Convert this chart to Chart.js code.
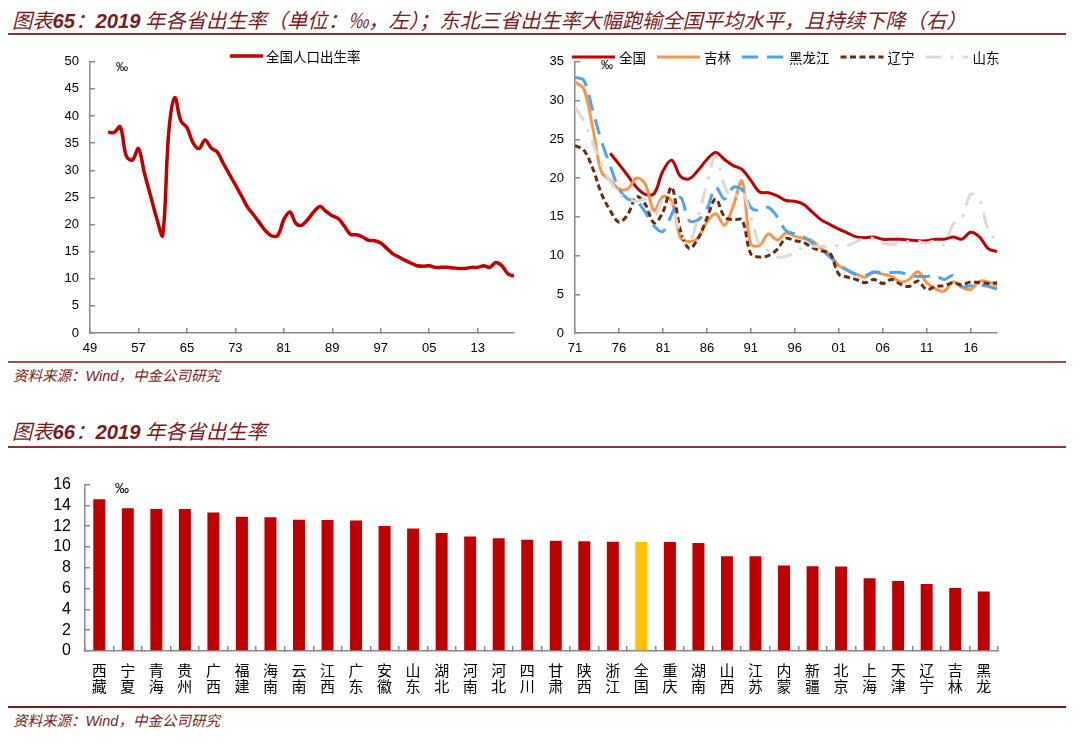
<!DOCTYPE html>
<html>
<head>
<meta charset="utf-8">
<script src="https://cdn.jsdelivr.net/npm/chart.js@4.4.0/dist/chart.umd.min.js"></script>
<style>
  body { margin:0; width:1080px; height:745px; background:#fff; position:relative; overflow:hidden; font-family:"Noto Sans CJK SC", sans-serif; }
  .title { position:absolute; left:12px; font-size:20.3px; line-height:24px; font-style:italic; color:#7d1a1c; white-space:nowrap; }
  .title .n { font-family:"Liberation Sans", Arial, sans-serif; font-weight:bold; }
  .src { position:absolute; left:13px; font-size:14.5px; line-height:18px; font-style:italic; color:#7d1a1c; white-space:nowrap; }
  .src .n { font-family:"Liberation Sans", Arial, sans-serif; }
  .rule { position:absolute; left:8px; width:1058px; }
  canvas { position:absolute; }
</style>
</head>
<body>

<div class="title" style="top:7px">图表<span class="n">65</span>：<span class="n">2019</span> 年各省出生率（单位：‰，左）；东北三省出生率大幅跑输全国平均水平，且持续下降（右）</div>
<div class="rule" style="top:33px;height:2px;background:#8a3434"></div>

<canvas id="natChart" width="490" height="325" style="left:40px;top:38px"></canvas>
<canvas id="regionChart" width="482" height="325" style="left:530px;top:38px"></canvas>

<div class="rule" style="top:361px;height:2px;background:#9a5250"></div>
<div class="src" style="top:366px">资料来源：<span class="n">Wind</span>，中金公司研究</div>

<div class="title" style="top:418px">图表<span class="n">66</span>：<span class="n">2019</span> 年各省出生率</div>
<div class="rule" style="top:446px;height:2px;background:#8a3434"></div>

<canvas id="provChart" width="975" height="245" style="left:35px;top:456px"></canvas>

<div class="rule" style="top:706px;height:2px;background:#731c1c"></div>
<div class="src" style="top:711px">资料来源：<span class="n">Wind</span>，中金公司研究</div>

<script>
// ---------- data ----------
// national birth rate, per mille
const natYears = [1952,1953,1954,1955,1956,1957,1958,1959,1960,1961,
  1962,1963,1964,1965,1966,1967,1968,1969,1970,1971,
  1972,1973,1974,1975,1976,1977,1978,1979,1980,1981,
  1982,1983,1984,1985,1986,1987,1988,1989,1990,1991,
  1992,1993,1994,1995,1996,1997,1998,1999,2000,2001,
  2002,2003,2004,2005,2006,2007,2008,2009,2010,2011,
  2012,2013,2014,2015,2016,2017,2018,2019];
const natRate = [37.0,37.0,38.0,32.6,31.9,34.0,29.4,25.3,21.2,18.0,
  37.0,43.4,39.1,37.9,35.1,34.0,35.6,34.1,33.4,31.3,
  29.3,27.3,25.3,23.2,21.8,20.3,18.8,17.9,18.0,20.9,
  22.3,20.2,19.9,21.0,22.4,23.3,22.4,21.6,21.1,19.7,
  18.2,18.1,17.7,17.1,17.0,16.6,15.6,14.6,14.0,13.4,
  12.9,12.4,12.3,12.4,12.1,12.1,12.1,12.0,11.9,11.9,
  12.1,12.1,12.4,12.1,13.0,12.4,10.9,10.5];
const natTicks = [1949,1957,1965,1973,1981,1989,1997,2005,2013];

// north-east provinces vs national (right chart)
const regionYears = [1971,1972,1973,1974,1975,1976,1977,1978,1979,1980,
  1981,1982,1983,1984,1985,1986,1987,1988,1989,1990,
  1991,1992,1993,1994,1995,1996,1997,1998,1999,2000,
  2001,2002,2003,2004,2005,2006,2007,2008,2009,2010,
  2011,2012,2013,2014,2015,2016,2017,2018,2019];
const natStartRight = 1975;
const jilin = [32.4,31.5,26.6,20.8,19.7,18.6,18.6,20.0,19.2,15.8,
  17.6,17.0,12.3,11.8,12.3,14.3,15.4,13.9,16.4,19.6,
  11.5,11.3,12.8,12.0,12.9,12.5,12.2,11.9,10.9,10.1,
  8.7,8.1,7.6,7.2,7.8,7.6,7.3,6.6,6.9,7.9,
  6.5,5.7,5.4,6.6,5.9,5.6,6.7,6.6,6.1];
const heilongjiang = [33.0,32.6,28.8,24.8,21.6,18.6,17.3,17.0,15.6,13.8,
  13.1,15.3,17.5,14.5,14.6,16.0,18.8,17.3,18.8,18.5,
  16.2,15.8,16.2,15.0,13.2,12.8,12.4,11.6,10.8,9.8,
  8.8,8.1,7.5,7.4,7.9,7.7,7.8,7.8,7.5,7.3,
  7.3,7.4,6.9,7.4,6.0,6.1,6.2,6.0,5.7];
const liaoning = [24.2,23.6,21.3,18.0,15.8,14.3,15.3,17.6,16.6,14.2,
  15.6,18.8,13.2,10.9,12.2,14.8,17.3,15.0,14.6,14.6,
  10.2,9.8,10.0,10.8,12.2,11.9,11.7,11.0,10.6,10.3,
  7.6,7.2,6.9,6.5,6.9,6.4,6.9,6.3,6.0,6.7,
  5.6,6.0,6.1,6.5,6.2,6.6,6.5,6.4,6.5];
const shandong = [29.1,27.4,24.6,21.7,19.6,18.0,17.3,17.0,17.2,15.0,
  17.2,16.6,12.8,11.8,15.0,19.2,22.8,19.0,17.4,18.3,
  15.0,11.4,10.6,9.8,9.9,10.4,11.1,11.2,11.2,11.0,
  11.3,11.3,11.8,12.2,12.2,11.6,11.4,11.6,11.8,11.8,
  11.6,11.9,11.4,14.0,14.8,17.9,17.2,13.3,11.8];
const regionTicks = [1971,1976,1981,1986,1991,1996,2001,2006,2011,2016];

// 2019 birth rate by province
const provinces = ['西藏','宁夏','青海','贵州','广西','福建','海南','云南','江西','广东','安徽',
  '山东','湖北','河南','河北','四川','甘肃','陕西','浙江','全国','重庆','湖南','山西','江苏',
  '内蒙','新疆','北京','上海','天津','辽宁','吉林','黑龙'];
const provRate = [14.60,13.72,13.66,13.65,13.31,12.90,12.87,12.63,12.59,12.54,12.03,
  11.77,11.35,11.02,10.83,10.70,10.60,10.55,10.51,10.48,10.48,10.39,9.12,9.12,
  8.23,8.14,8.12,7.00,6.73,6.45,6.05,5.73];
const provTicks = [0,2,4,6,8,10,12,14,16];

// ---------- helpers ----------
const NUM_FONT = '"Liberation Sans", Arial, sans-serif';
const CJK_FONT = '"Noto Sans CJK SC", sans-serif';
const AXIS = '#8a8a8a';

function pts(years, vals) {
  return vals.map((v, i) => ({ x: years[i], y: v }));
}

// legend drawn over the plot, uses each dataset's own line style
const lineLegend = {
  id: 'lineLegend',
  afterDraw(chart, args, opts) {
    const ctx = chart.ctx;
    let x = opts.x;
    ctx.save();
    ctx.font = opts.font;
    ctx.textBaseline = 'middle';
    chart.data.datasets.forEach(ds => {
      ctx.strokeStyle = ds.borderColor;
      ctx.lineWidth = ds.borderWidth;
      ctx.setLineDash(ds.borderDash || []);
      ctx.beginPath();
      ctx.moveTo(x, opts.y);
      ctx.lineTo(x + opts.lineLen, opts.y);
      ctx.stroke();
      x += opts.lineLen + opts.textGap;
      ctx.fillStyle = '#000';
      ctx.fillText(ds.label, x, opts.y + 1);
      x += ctx.measureText(ds.label).width + opts.itemGap;
    });
    ctx.restore();
  }
};

// the little per-mille sign near the top of the y axis
const unitMark = {
  id: 'unitMark',
  afterDraw(chart, args, opts) {
    const ctx = chart.ctx;
    ctx.save();
    ctx.font = opts.font;
    ctx.fillStyle = '#000';
    ctx.textBaseline = 'middle';
    ctx.fillText('‰', chart.chartArea.left + opts.dx, chart.chartArea.top + opts.dy);
    ctx.restore();
  }
};

function axisGrid() {
  return { drawOnChartArea: false, drawTicks: true, tickLength: -5, color: AXIS, lineWidth: 1.5 };
}
function axisBorder() {
  return { display: true, color: AXIS, width: 1.5 };
}

Chart.defaults.animation = false;
Chart.defaults.devicePixelRatio = 1;

// ---------- left: national birth rate ----------
new Chart(document.getElementById('natChart'), {
  type: 'line',
  data: {
    datasets: [{
      label: '全国人口出生率',
      data: pts(natYears, natRate),
      borderColor: '#c00000',
      borderWidth: 3.5,
      pointRadius: 0,
      tension: 0.35
    }]
  },
  options: {
    responsive: false,
    layout: { padding: { top: 10, right: 16, left: 0, bottom: 0 } },
    plugins: {
      legend: { display: false },
      tooltip: { enabled: false },
      lineLegend: { x: 190, y: 18, lineLen: 33, textGap: 3, itemGap: 10, font: '13.5px ' + CJK_FONT },
      unitMark: { dx: 26, dy: 6, font: '12px ' + NUM_FONT }
    },
    scales: {
      x: {
        type: 'linear', min: 1949, max: 2019,
        afterBuildTicks: s => { s.ticks = natTicks.map(v => ({ value: v })); },
        afterFit: s => { s.height = 30; },
        grid: axisGrid(), border: axisBorder(),
        ticks: { padding: 13, color: '#000', maxRotation: 0, autoSkip: false,
          font: { family: NUM_FONT, size: 13 }, callback: v => String(v).slice(2) }
      },
      y: {
        min: 0, max: 50,
        afterFit: s => { s.width = 50; },
        grid: axisGrid(), border: axisBorder(),
        ticks: { stepSize: 5, padding: 16, autoSkip: false, color: '#000', font: { family: NUM_FONT, size: 13 } }
      }
    }
  },
  plugins: [lineLegend, unitMark]
});

// ---------- right: north-east vs national ----------
new Chart(document.getElementById('regionChart'), {
  type: 'line',
  data: {
    datasets: [
      { label: '全国', data: pts(natYears, natRate).filter(p => p.x >= natStartRight),
        borderColor: '#c00000', borderWidth: 3, order: 4 },
      { label: '吉林', data: pts(regionYears, jilin),
        borderColor: '#f79646', borderWidth: 3, order: 3 },
      { label: '黑龙江', data: pts(regionYears, heilongjiang),
        borderColor: '#4da3f2', borderWidth: 3, borderDash: [16, 9], order: 2 },
      { label: '辽宁', data: pts(regionYears, liaoning),
        borderColor: '#6e2a0c', borderWidth: 3, borderDash: [6, 3.5], order: 1 },
      { label: '山东', data: pts(regionYears, shandong),
        borderColor: '#d9d9d9', borderWidth: 3, borderDash: [16, 9, 3, 9], order: 0 }
    ]
  },
  options: {
    responsive: false,
    elements: { point: { radius: 0 }, line: { tension: 0.35 } },
    layout: { padding: { top: 10, right: 15, left: 0, bottom: 0 } },
    plugins: {
      legend: { display: false },
      tooltip: { enabled: false },
      lineLegend: { x: 42, y: 19, lineLen: 43, textGap: 4, itemGap: 11, font: '13.5px ' + CJK_FONT },
      unitMark: { dx: 26, dy: 4, font: '12px ' + NUM_FONT }
    },
    scales: {
      x: {
        type: 'linear', min: 1971, max: 2019,
        afterBuildTicks: s => { s.ticks = regionTicks.map(v => ({ value: v })); },
        afterFit: s => { s.height = 30; },
        grid: axisGrid(), border: axisBorder(),
        ticks: { padding: 13, color: '#000', maxRotation: 0, autoSkip: false,
          font: { family: NUM_FONT, size: 13 }, callback: v => String(v).slice(2) }
      },
      y: {
        min: 0, max: 35,
        afterFit: s => { s.width = 45; },
        grid: axisGrid(), border: axisBorder(),
        ticks: { stepSize: 5, padding: 16, autoSkip: false, color: '#000', font: { family: NUM_FONT, size: 13 } }
      }
    }
  },
  plugins: [lineLegend, unitMark]
});

// ---------- bottom: provinces 2019 ----------
new Chart(document.getElementById('provChart'), {
  type: 'bar',
  data: {
    labels: provinces,
    datasets: [{
      data: provRate,
      backgroundColor: provinces.map(p => p === '全国' ? '#ffc000' : '#c00000'),
      barPercentage: 0.42,
      categoryPercentage: 1
    }]
  },
  options: {
    responsive: false,
    layout: { padding: { top: 10, right: 12, left: 0, bottom: 0 } },
    plugins: {
      legend: { display: false },
      tooltip: { enabled: false },
      unitMark: { dx: 30, dy: 5, font: '14px ' + NUM_FONT }
    },
    scales: {
      x: {
        afterFit: s => { s.height = 50; },
        grid: Object.assign(axisGrid(), { offset: true }), border: axisBorder(),
        ticks: { padding: 16, color: '#000', maxRotation: 0, autoSkip: false,
          font: { family: CJK_FONT, size: 15, lineHeight: 1.07 },
          callback: (v, i) => provinces[i].split('') }
      },
      y: {
        min: 0, max: 16,
        afterBuildTicks: s => { s.ticks = provTicks.map(v => ({ value: v })); },
        afterFit: s => { s.width = 50; },
        grid: axisGrid(), border: axisBorder(),
        ticks: { padding: 19, autoSkip: false, color: '#000', font: { family: NUM_FONT, size: 16 } }
      }
    }
  },
  plugins: [unitMark]
});
</script>
</body>
</html>
